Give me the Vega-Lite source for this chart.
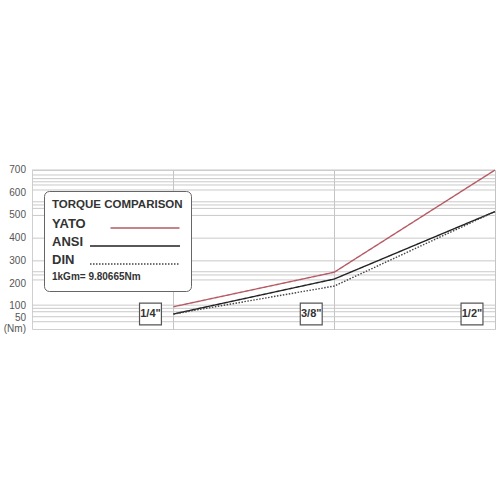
{
  "$schema": "https://vega.github.io/schema/vega-lite/v6.json",
  "width": 463,
  "height": 159,
  "autosize": {"type": "none"},
  "padding": {"left": 32, "top": 170, "right": 5, "bottom": 171},
  "background": "white",
  "config": {
    "view": {"stroke": "#cfcfcf", "strokeWidth": 1},
    "font": "Liberation Sans",
    "legend": {
      "orient": "none", "legendX": 12, "legendY": 21,
      "padding": 8, "cornerRadius": 5, "strokeColor": "#666", "fillColor": "white",
      "titleFont": "Liberation Sans", "titleFontSize": 11.5,
      "titleFontWeight": "bold", "titleColor": "#333", "titlePadding": 11,
      "labelFont": "Liberation Sans", "labelFontSize": 13,
      "labelFontWeight": "bold", "labelColor": "#333", "labelBaseline": "alphabetic",
      "labelLimit": 200,
      "symbolSize": 16, "symbolStrokeWidth": 1.3,
      "rowPadding": 4
    }
  },
  "datasets": {
    "torque": [
      {"pos": 1, "size": "1/4\"", "series": "YATO", "nm": 98},
      {"pos": 2, "size": "3/8\"", "series": "YATO", "nm": 250},
      {"pos": 3, "size": "1/2\"", "series": "YATO", "nm": 700},
      {"pos": 1, "size": "1/4\"", "series": "ANSI", "nm": 66},
      {"pos": 2, "size": "3/8\"", "series": "ANSI", "nm": 220},
      {"pos": 3, "size": "1/2\"", "series": "ANSI", "nm": 517},
      {"pos": 1, "size": "1/4\"", "series": "DIN", "nm": 66},
      {"pos": 2, "size": "3/8\"", "series": "DIN", "nm": 189},
      {"pos": 3, "size": "1/2\"", "series": "DIN", "nm": 517}
    ],
    "sizes": [
      {"pos": 1, "size": "1/4\""},
      {"pos": 2, "size": "3/8\""},
      {"pos": 3, "size": "1/2\""}
    ],
    "yticks": [
      {"nm": 700, "label": "700"}, {"nm": 600, "label": "600"},
      {"nm": 500, "label": "500"}, {"nm": 400, "label": "400"},
      {"nm": 300, "label": "300"}, {"nm": 200, "label": "200"},
      {"nm": 100, "label": "100"}, {"nm": 50, "label": "50"},
      {"nm": 0, "label": "(Nm)"}
    ],
    "gridlines": [
      {"nm": 700}, {"nm": 678}, {"nm": 662}, {"nm": 648}, {"nm": 634}, {"nm": 612},
      {"nm": 560}, {"nm": 546}, {"nm": 531}, {"nm": 500},
      {"nm": 400}, {"nm": 300},
      {"nm": 252}, {"nm": 238}, {"nm": 216},
      {"nm": 105}, {"nm": 91}, {"nm": 76}, {"nm": 54}, {"nm": 32}
    ]
  },
  "layer": [
    {
      "data": {"name": "gridlines"},
      "mark": {"type": "rule", "color": "#c9c9c9", "strokeWidth": 1},
      "encoding": {
        "y": {
          "field": "nm", "type": "quantitative",
          "scale": {"domain": [0, 700], "nice": false, "zero": true},
          "axis": null
        }
      }
    },
    {
      "data": {"name": "torque"},
      "mark": {"type": "line", "strokeWidth": 1.4},
      "encoding": {
        "x": {
          "field": "pos", "type": "quantitative",
          "scale": {"domain": [0.12, 3], "nice": false, "zero": false},
          "axis": {
            "values": [1, 2, 3], "grid": true, "gridColor": "#c4c4c4",
            "labels": false, "ticks": false, "domain": false
          },
          "title": null
        },
        "y": {"field": "nm", "type": "quantitative", "axis": null},
        "color": {
          "field": "series", "type": "nominal",
          "scale": {
            "domain": ["YATO", "ANSI", "DIN", "1kGm= 9.80665Nm"],
            "range": ["#b65a64", "#222222", "#444444", "transparent"]
          },
          "legend": {
            "title": "TORQUE COMPARISON",
            "symbolType": "M-22.5,0H22.5",
            "encode": {
              "labels": {"update": {
                "x": {"value": 0},
                "fontSize": {"signal": "datum.value === '1kGm= 9.80665Nm' ? 10 : 13"}
              }},
              "symbols": {"update": {
                "x": {"signal": "datum.value === 'YATO' ? 93 : 83"},
                "shape": {"signal": "datum.value === 'YATO' ? 'M-17.25,0H17.25' : 'M-22.5,0H22.5'"}
              }}
            }
          }
        },
        "strokeDash": {
          "field": "series", "type": "nominal",
          "scale": {
            "domain": ["YATO", "ANSI", "DIN", "1kGm= 9.80665Nm"],
            "range": [[1, 0], [1, 0], [1.5, 1.5], [1, 0]]
          },
          "legend": {
            "title": "TORQUE COMPARISON",
            "symbolType": "M-22.5,0H22.5",
            "encode": {
              "labels": {"update": {
                "x": {"value": 0},
                "fontSize": {"signal": "datum.value === '1kGm= 9.80665Nm' ? 10 : 13"}
              }},
              "symbols": {"update": {
                "x": {"signal": "datum.value === 'YATO' ? 93 : 83"},
                "shape": {"signal": "datum.value === 'YATO' ? 'M-17.25,0H17.25' : 'M-22.5,0H22.5'"}
              }}
            }
          }
        }
      }
    },
    {
      "data": {"name": "yticks"},
      "mark": {
        "type": "text", "font": "Liberation Sans", "fontSize": 10,
        "color": "#555", "align": "right", "baseline": "middle", "xOffset": -6
      },
      "encoding": {
        "x": {"datum": 0.12, "type": "quantitative"},
        "y": {"field": "nm", "type": "quantitative", "axis": null},
        "text": {"field": "label"}
      }
    },
    {
      "data": {"name": "sizes"},
      "mark": {
        "type": "point", "shape": "square", "size": 480, "filled": true,
        "fill": "white", "stroke": "#555", "strokeWidth": 1.2, "opacity": 1,
        "xOffset": -23, "yOffset": -15
      },
      "encoding": {
        "x": {
          "field": "pos", "type": "quantitative",
          "axis": {
            "values": [1, 2, 3], "grid": true, "gridColor": "#c4c4c4",
            "labels": false, "ticks": false, "domain": false
          },
          "title": null
        },
        "y": {"datum": 0, "type": "quantitative", "axis": null}
      }
    },
    {
      "data": {"name": "sizes"},
      "mark": {
        "type": "text", "font": "Liberation Sans",
        "fontSize": 11, "fontWeight": "bold", "color": "#333",
        "xOffset": -23, "yOffset": -15, "baseline": "middle", "align": "center"
      },
      "encoding": {
        "x": {
          "field": "pos", "type": "quantitative",
          "axis": {
            "values": [1, 2, 3], "grid": true, "gridColor": "#c4c4c4",
            "labels": false, "ticks": false, "domain": false
          },
          "title": null
        },
        "y": {"datum": 0, "type": "quantitative", "axis": null},
        "text": {"field": "size"}
      }
    }
  ]
}
